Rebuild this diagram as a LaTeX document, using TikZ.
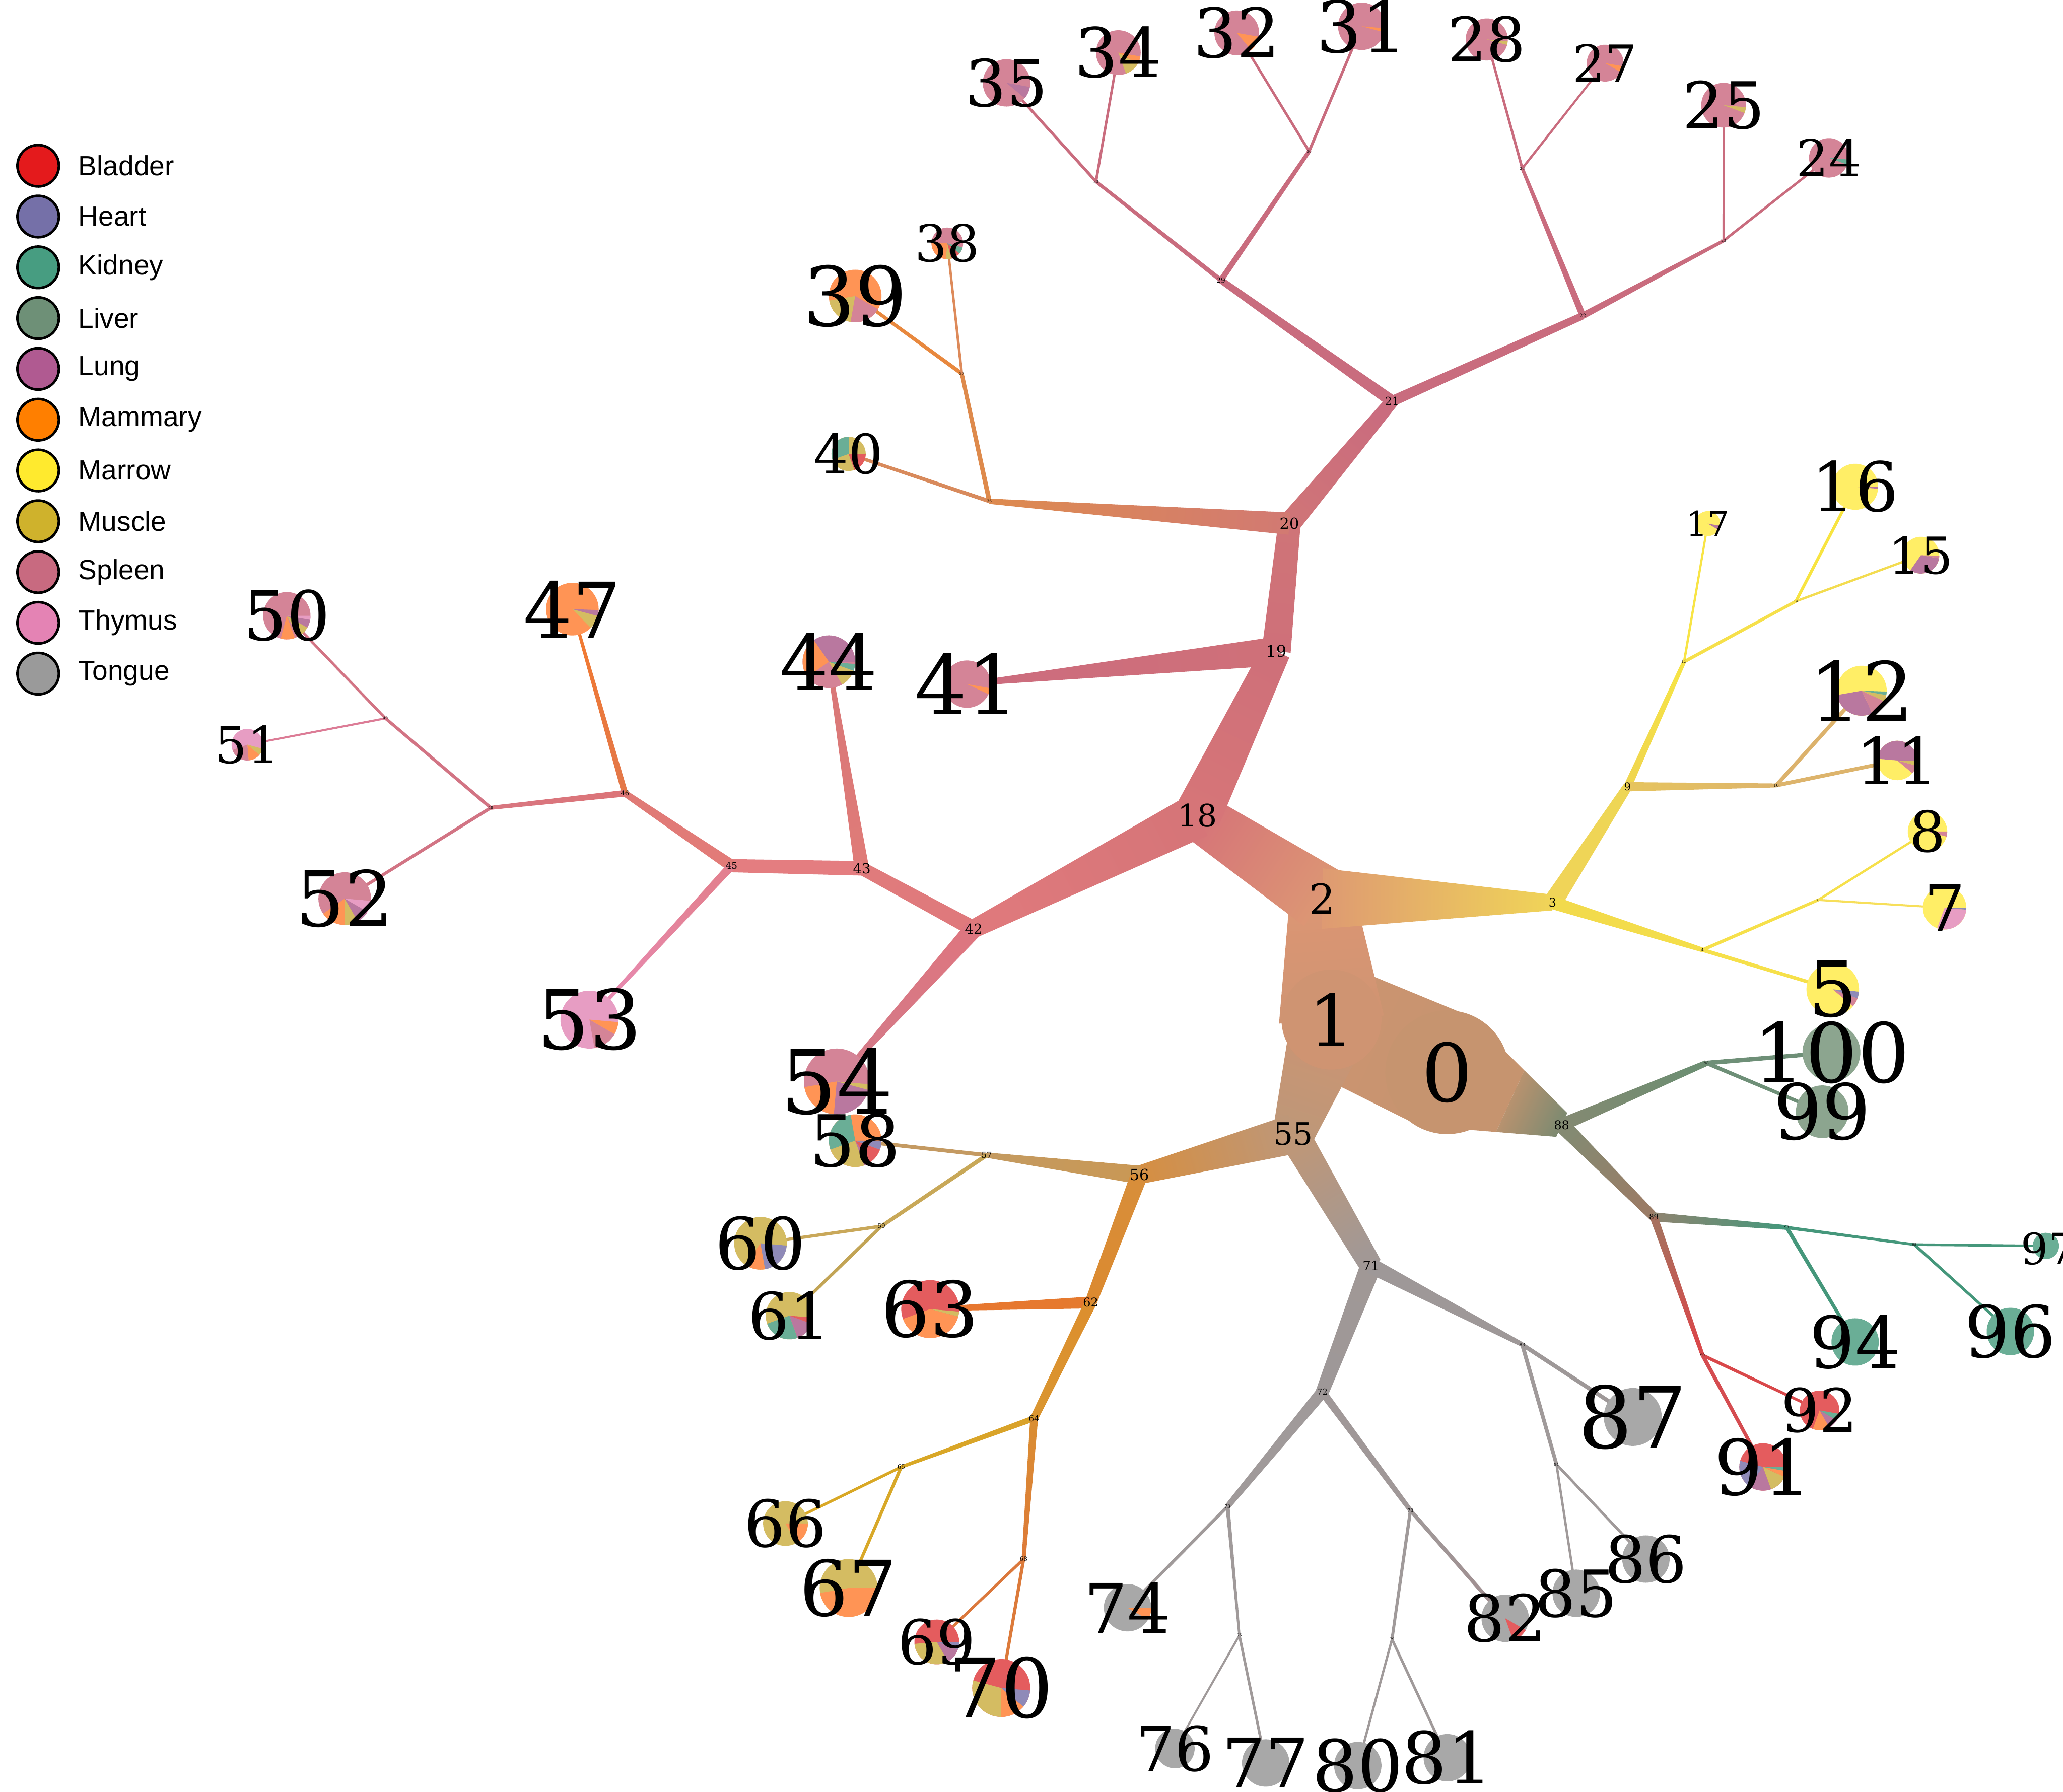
\documentclass[tikz,border=0pt]{standalone}
\usepackage{fontspec}
\setmainfont{DejaVu Serif}
\newfontfamily\legfont{Liberation Sans}
\usetikzlibrary{calc}
\definecolor{pSp}{HTML}{D48497}
\definecolor{pMa}{HTML}{FFEE66}
\definecolor{pLu}{HTML}{B9789F}
\definecolor{pMm}{HTML}{FF9455}
\definecolor{pMu}{HTML}{D4BC62}
\definecolor{pKi}{HTML}{6AAE96}
\definecolor{pLi}{HTML}{8CA58F}
\definecolor{pBl}{HTML}{E45C5E}
\definecolor{pHe}{HTML}{8F8AB8}
\definecolor{pTh}{HTML}{E79DC3}
\definecolor{pTo}{HTML}{A8A8A8}
\definecolor{lBl}{HTML}{E41A1C}
\definecolor{lHe}{HTML}{7570A8}
\definecolor{lKi}{HTML}{479D81}
\definecolor{lLi}{HTML}{6E9077}
\definecolor{lLu}{HTML}{B05A91}
\definecolor{lMm}{HTML}{FF7F00}
\definecolor{lMa}{HTML}{FFEA2E}
\definecolor{lMu}{HTML}{CFB22C}
\definecolor{lSp}{HTML}{C86A80}
\definecolor{lTh}{HTML}{E483B4}
\definecolor{lTo}{HTML}{9A9A9A}
\definecolor{cRt}{HTML}{C6946F}
\definecolor{cR1}{HTML}{CF9472}
% tapered branch: parent, child, width at parent, width at child, colour at parent, colour at child
\newcommand\brpath[4]{($(n#1)!#3*0.05mm!90:(n#2)$) -- ($(n#2)!#4*0.05mm!-90:(n#1)$) --
    ($(n#2)!#4*0.05mm!90:(n#1)$) -- ($(n#1)!#3*0.05mm!-90:(n#2)$) -- cycle}
\newcommand\brangle[2]{%
  \pgfmathanglebetweenpoints{\pgfpointanchor{n#1}{center}}{\pgfpointanchor{n#2}{center}}%
  \pgfmathsetmacro\brang{\pgfmathresult-90}}
\newcommand\br[6]{%
  \definecolor{brA}{HTML}{#5}\definecolor{brB}{HTML}{#6}\brangle{#1}{#2}%
  \path[top color=brB, bottom color=brA, shading angle=\brang] \brpath{#1}{#2}{#3}{#4};}
\newcommand\pie[3]{\fill[#3] (n#1) circle[radius=#2];}
\newcommand\pw[5]{\fill[#5] (n#1) -- ++(#3:#2) arc[start angle=#3, end angle=#4, radius=#2] -- cycle;}
\newcommand\lb[2]{\node[lbl, font={\fontsize{#2}{#2}\selectfont}] (t#1) at (n#1) {#1};}
\tikzset{
  lbl/.style={inner sep=0pt, text=black},
  legc/.style={circle, draw=black, line width=0.55pt, minimum size=3.15mm, inner sep=0pt},
  legt/.style={anchor=west, inner sep=0pt, font={\legfont\fontsize{6}{7}\selectfont}}
}
\begin{document}
\begin{tikzpicture}[x=0.1mm, y=0.1mm]
\fill[white] (0,0) rectangle (1568,-1362);
\useasboundingbox (0,0) rectangle (1568,-1362);
% ---------- coordinates ----------
\coordinate (n0) at (1100,-815);
\coordinate (n1) at (1012,-775);
\coordinate (n2) at (1005,-683);
\coordinate (n3) at (1180,-686);
\coordinate (n4) at (1294,-722);
\coordinate (n5) at (1393,-752);
\coordinate (n6) at (1382,-684);
\coordinate (n7) at (1478,-690);
\coordinate (n8) at (1465,-632);
\coordinate (n9) at (1237,-598);
\coordinate (n10) at (1350,-597);
\coordinate (n11) at (1442,-578);
\coordinate (n12) at (1415,-525);
\coordinate (n13) at (1280,-503);
\coordinate (n14) at (1365,-457);
\coordinate (n15) at (1460,-422);
\coordinate (n16) at (1410,-370);
\coordinate (n17) at (1298,-398);
\coordinate (n18) at (910,-620);
\coordinate (n19) at (970,-495);
\coordinate (n20) at (980,-398);
\coordinate (n21) at (1058,-305);
\coordinate (n22) at (1203,-240);
\coordinate (n23) at (1310,-183);
\coordinate (n24) at (1390,-120);
\coordinate (n25) at (1310,-80);
\coordinate (n26) at (1157,-128);
\coordinate (n27) at (1220,-48);
\coordinate (n28) at (1130,-30);
\coordinate (n29) at (928,-213);
\coordinate (n30) at (995,-115);
\coordinate (n31) at (1035,-20);
\coordinate (n32) at (940,-25);
\coordinate (n33) at (833,-138);
\coordinate (n34) at (850,-40);
\coordinate (n35) at (765,-63);
\coordinate (n36) at (752,-381);
\coordinate (n37) at (731,-284);
\coordinate (n38) at (720,-185);
\coordinate (n39) at (650,-225);
\coordinate (n40) at (645,-345);
\coordinate (n41) at (735,-520);
\coordinate (n42) at (740,-706);
\coordinate (n43) at (655,-660);
\coordinate (n44) at (630,-503);
\coordinate (n45) at (556,-658);
\coordinate (n46) at (475,-603);
\coordinate (n47) at (435,-463);
\coordinate (n48) at (373,-614);
\coordinate (n49) at (293,-546);
\coordinate (n50) at (218,-468);
\coordinate (n51) at (188,-566);
\coordinate (n52) at (262,-683);
\coordinate (n53) at (448,-775);
\coordinate (n54) at (636,-822);
\coordinate (n55) at (983,-862);
\coordinate (n56) at (866,-893);
\coordinate (n57) at (750,-878);
\coordinate (n58) at (650,-867);
\coordinate (n59) at (670,-932);
\coordinate (n60) at (578,-945);
\coordinate (n61) at (600,-1000);
\coordinate (n62) at (829,-990);
\coordinate (n63) at (707,-995);
\coordinate (n64) at (786,-1078);
\coordinate (n65) at (685,-1115);
\coordinate (n66) at (597,-1158);
\coordinate (n67) at (645,-1207);
\coordinate (n68) at (778,-1185);
\coordinate (n69) at (712,-1248);
\coordinate (n70) at (761,-1283);
\coordinate (n71) at (1042,-962);
\coordinate (n72) at (1005,-1058);
\coordinate (n73) at (933,-1145);
\coordinate (n74) at (857,-1222);
\coordinate (n75) at (942,-1243);
\coordinate (n76) at (893,-1329);
\coordinate (n77) at (962,-1340);
\coordinate (n78) at (1072,-1148);
\coordinate (n79) at (1058,-1246);
\coordinate (n80) at (1032,-1342);
\coordinate (n81) at (1100,-1336);
\coordinate (n82) at (1144,-1230);
\coordinate (n83) at (1157,-1022);
\coordinate (n84) at (1183,-1113);
\coordinate (n85) at (1198,-1211);
\coordinate (n86) at (1251,-1185);
\coordinate (n87) at (1241,-1077);
\coordinate (n88) at (1187,-855);
\coordinate (n89) at (1257,-925);
\coordinate (n90) at (1294,-1030);
\coordinate (n91) at (1340,-1115);
\coordinate (n92) at (1383,-1072);
\coordinate (n93) at (1358,-933);
\coordinate (n94) at (1410,-1020);
\coordinate (n95) at (1455,-946);
\coordinate (n96) at (1528,-1012);
\coordinate (n97) at (1555,-947);
\coordinate (n98) at (1297,-808);
\coordinate (n99) at (1385,-845);
\coordinate (n100) at (1392,-800);
\coordinate (n0b) at ($(n0)!0.55!(n88)$);
% ---------- branches ----------
\fill[cRt] \brpath{0}{0b}{90}{51.5};
\br{0b}{88}{51.5}{20}{C6946F}{7E8A70}
\br{0}{1}{92}{85}{C6946F}{CC9471}
\br{1}{2}{80}{50}{CF9472}{DC9674}
\br{1}{55}{62}{32}{CE9472}{BE9778}
\fill[cR1] (n1) circle[radius=38];
\fill[cRt] (n0) circle[radius=47];
\br{2}{18}{50}{36}{DC9674}{D67578}
\br{2}{3}{46}{12}{DE9A72}{F0D458}
\br{18}{19}{36}{22}{D67578}{CF7079}
\br{18}{42}{34}{14}{D67578}{DF797C}
\br{19}{20}{22}{17}{CF7079}{CF7478}
\br{19}{41}{22}{3}{CF7079}{CC6C7E}
\br{20}{21}{17}{10}{CF7478}{CA6C7E}
\br{20}{36}{17}{4}{D27A72}{DD8A50}
\br{21}{29}{9}{5}{C96C7E}{C96C7E}
\br{21}{22}{8}{5.5}{C96C7E}{C96C7E}
\br{29}{33}{3.5}{2.5}{C96C7E}{C96C7E}
\br{29}{30}{4.4}{3}{C96C7E}{C96C7E}
\br{33}{35}{2.2}{2}{C96C7E}{C96C7E}
\br{33}{34}{2}{1.8}{C96C7E}{C96C7E}
\br{30}{32}{2}{1.8}{C96C7E}{C96C7E}
\br{30}{31}{2.2}{2}{C96C7E}{C96C7E}
\br{22}{26}{5}{2.5}{C96C7E}{C96C7E}
\br{22}{23}{5}{2.5}{C96C7E}{C96C7E}
\br{26}{28}{2}{1.8}{C96C7E}{C96C7E}
\br{26}{27}{1.8}{1.5}{C96C7E}{C96C7E}
\br{23}{25}{1.6}{1.5}{C96C7E}{C96C7E}
\br{23}{24}{2}{1.8}{C96C7E}{C96C7E}
\br{36}{40}{3}{2.5}{D88A5C}{D88A5C}
\br{36}{37}{3.5}{3}{DE8A4C}{DE8A4C}
\br{37}{39}{3}{2.5}{E8883E}{E8883E}
\br{37}{38}{2}{1.8}{DD8A5A}{DD8A5A}
\br{42}{43}{12}{10}{DF797C}{E07B7C}
\br{42}{54}{14}{3}{DD7680}{D47A88}
\br{43}{44}{11}{2.7}{DF7B78}{D97878}
\br{43}{45}{11}{10}{E47D80}{E47D80}
\br{45}{46}{9}{5}{E27B78}{E07A76}
\br{45}{53}{6.4}{2.3}{E38090}{E78AB0}
\br{46}{47}{4.7}{2}{E47848}{F27A30}
\br{46}{48}{5}{3}{DC7478}{D87680}
\br{48}{49}{2.5}{2.3}{D27484}{D27484}
\br{48}{52}{2.5}{2.3}{D27484}{D27484}
\br{49}{50}{2}{2}{D27484}{D27484}
\br{49}{51}{1.6}{1.5}{DC7C96}{DC7C96}
\br{3}{9}{14.5}{7}{F0D458}{EED655}
\br{3}{4}{10}{3.5}{F2DA4C}{F4DE4A}
\br{9}{13}{6}{3}{F0D64E}{F6E345}
\br{9}{10}{7}{3}{E6C45E}{DDB46C}
\br{13}{17}{1.8}{1.6}{F8E445}{F8E445}
\br{13}{14}{2.5}{2.3}{F6E04A}{F6E04A}
\br{14}{16}{2.3}{2.2}{F8E440}{F8E440}
\br{14}{15}{1.8}{1.7}{F3DC50}{F3DC50}
\br{10}{12}{3}{2.8}{DCB26C}{DCB26C}
\br{10}{11}{3}{2.8}{DDB46C}{DDB46C}
\br{4}{5}{3}{2.5}{F6E04A}{F6E04A}
\br{4}{6}{2.5}{2.2}{F6E04A}{F6E04A}
\br{6}{8}{1.8}{1.7}{F6E04A}{F6E04A}
\br{6}{7}{1.6}{1.5}{F7DF5A}{F7DF5A}
\br{55}{56}{30}{14}{BE9778}{D48F45}
\br{55}{71}{24}{17}{BE9778}{A29895}
\br{56}{57}{14}{4}{C99855}{C49A60}
\br{56}{62}{13}{9}{D88E3A}{DB8A30}
\br{57}{58}{3}{2.8}{C49A62}{C49A62}
\br{57}{59}{3.2}{2.8}{C8A858}{C8A858}
\br{59}{60}{2.5}{2.4}{C9A85A}{C9A85A}
\br{59}{61}{2.5}{2.4}{C2A455}{C2A455}
\br{62}{63}{9}{3}{E57A2E}{E87630}
\br{62}{64}{9}{6}{DC8F2E}{DA9530}
\br{64}{65}{4.5}{2.5}{D9A22A}{D9A825}
\br{64}{68}{6}{3}{DA8E33}{DD7A38}
\br{65}{66}{2.2}{2}{D9A825}{D9A825}
\br{65}{67}{2.5}{2.3}{D8A828}{D8A828}
\br{68}{69}{2.2}{2}{DB783C}{DB783C}
\br{68}{70}{2.5}{2.3}{DC7A3A}{DC7A3A}
\br{71}{72}{16}{10}{A09896}{9E9898}
\br{71}{83}{12}{3.5}{9E9898}{9E9898}
\br{72}{73}{9}{4.4}{A09A9A}{A09A9A}
\br{72}{78}{6}{3.5}{A09898}{A09898}
\br{73}{74}{2.5}{2.2}{A09A9A}{A09A9A}
\br{73}{75}{3}{1.8}{A09A9A}{A09A9A}
\br{75}{76}{1.6}{1.5}{A09A9A}{A09A9A}
\br{75}{77}{2}{2}{A09A9A}{A09A9A}
\br{78}{79}{2.5}{2.2}{A09A9A}{A09A9A}
\br{78}{82}{3}{2.8}{A09898}{A08E90}
\br{79}{80}{1.8}{1.8}{A09A9A}{A09A9A}
\br{79}{81}{2}{2}{A09A9A}{A09A9A}
\br{83}{87}{3.2}{3}{9E9898}{9E9898}
\br{83}{84}{3}{2.8}{A09A9A}{A09A9A}
\br{84}{85}{1.8}{1.8}{A09A9A}{A09A9A}
\br{84}{86}{2}{2}{A09A9A}{A09A9A}
\br{88}{98}{10}{4.5}{828A72}{6D8E72}
\br{88}{89}{12}{7}{848A72}{9A7C66}
\br{98}{100}{3.5}{3}{6E8F77}{6E8F77}
\br{98}{99}{3}{2.5}{6E8F77}{6E8F77}
\br{89}{93}{7}{3.5}{8C8470}{45977B}
\br{89}{90}{6}{3}{A8705E}{D9484A}
\br{93}{94}{3}{2.5}{45977B}{45977B}
\br{93}{95}{2.5}{2}{45977B}{45977B}
\br{95}{97}{2}{1.8}{45977B}{45977B}
\br{95}{96}{2.2}{2}{45977B}{45977B}
\br{90}{92}{2.5}{2}{D9484A}{D9484A}
\br{90}{91}{3}{2.5}{D54C50}{D54C50}
% ---------- leaf pies ----------
\pie{5}{20}{pMa}\pw{5}{20}{320}{340}{pSp}\pw{5}{20}{340}{355}{pHe}
\pie{7}{16.5}{pMa}\pw{7}{16.5}{250}{355}{pTh}\pw{7}{16.5}{355}{360}{pHe}
\pie{8}{15}{pMa}\pw{8}{15}{345}{360}{pSp}
\pie{11}{15}{pMa}\pw{11}{15}{0}{175}{pLu}\pw{11}{15}{320}{345}{pSp}\pw{11}{15}{345}{358}{pMu}
\pie{12}{19}{pMa}\pw{12}{19}{190}{295}{pLu}\pw{12}{19}{295}{335}{pSp}\pw{12}{19}{335}{350}{pMu}\pw{12}{19}{350}{358}{pKi}
\pie{15}{14}{pMa}\pw{15}{14}{235}{350}{pLu}\pw{15}{14}{350}{358}{pSp}
\pie{16}{17.5}{pMa}\pw{16}{17.5}{355}{360}{pLu}
\pie{17}{9.5}{pMa}\pw{17}{9.5}{330}{350}{pLu}
\pie{24}{15}{pSp}\pw{24}{15}{340}{355}{pKi}
\pie{25}{17}{pSp}\pw{25}{17}{340}{355}{pMu}
\pie{27}{14}{pSp}\pw{27}{14}{330}{350}{pMm}
\pie{28}{16}{pSp}\pw{28}{16}{345}{355}{pMu}
\pie{31}{18}{pSp}\pw{31}{18}{345}{355}{pMm}
\pie{32}{17}{pSp}\pw{32}{17}{310}{350}{pMm}
\pie{34}{17}{pSp}\pw{34}{17}{290}{330}{pMu}\pw{34}{17}{330}{350}{pMm}
\pie{35}{18}{pSp}\pw{35}{18}{320}{350}{pLu}
\pie{38}{12}{pSp}\pw{38}{12}{180}{265}{pMm}\pw{38}{12}{265}{285}{pMu}\pw{38}{12}{285}{320}{pBl}\pw{38}{12}{320}{345}{pKi}
\pie{39}{20}{pMm}\pw{39}{20}{190}{260}{pMu}\pw{39}{20}{260}{330}{pSp}
\pie{40}{13}{pMu}\pw{40}{13}{90}{200}{pKi}\pw{40}{13}{290}{360}{pBl}
\pie{41}{18}{pSp}\pw{41}{18}{335}{350}{pMm}
\pie{44}{20}{pSp}\pw{44}{20}{0}{125}{pLu}\pw{44}{20}{125}{215}{pMm}\pw{44}{20}{300}{340}{pMu}\pw{44}{20}{340}{355}{pKi}
\pie{47}{20}{pMm}\pw{47}{20}{315}{345}{pMu}\pw{47}{20}{345}{358}{pLu}
\pie{50}{18}{pSp}\pw{50}{18}{255}{290}{pMm}\pw{50}{18}{300}{330}{pMu}\pw{50}{18}{330}{350}{pLu}\pw{50}{18}{350}{360}{pTh}
\pie{51}{12}{pTh}\pw{51}{12}{200}{275}{pSp}\pw{51}{12}{275}{320}{pMm}\pw{51}{12}{320}{345}{pMu}
\pie{52}{20}{pSp}\pw{52}{20}{215}{270}{pMm}\pw{52}{20}{270}{300}{pMu}\pw{52}{20}{300}{330}{pLu}\pw{52}{20}{330}{355}{pTh}
\pie{53}{22}{pTh}\pw{53}{22}{280}{330}{pSp}\pw{53}{22}{330}{355}{pMm}
\pie{54}{25}{pSp}\pw{54}{25}{190}{265}{pMm}\pw{54}{25}{265}{345}{pLu}\pw{54}{25}{345}{355}{pMu}
\pie{58}{20}{pMm}\pw{58}{20}{100}{200}{pKi}\pw{58}{20}{200}{290}{pMu}\pw{58}{20}{290}{305}{pLu}\pw{58}{20}{305}{340}{pBl}\pw{58}{20}{340}{360}{pHe}
\pie{60}{20}{pMu}\pw{60}{20}{235}{280}{pMm}\pw{60}{20}{280}{355}{pHe}
\pie{61}{18}{pMu}\pw{61}{18}{200}{290}{pKi}\pw{61}{18}{290}{340}{pLu}\pw{61}{18}{340}{355}{pBl}
\pie{63}{22}{pBl}\pw{63}{22}{200}{345}{pMm}\pw{63}{22}{345}{355}{pMu}
\pie{66}{17}{pMu}\pw{66}{17}{300}{360}{pMm}
\pie{67}{22}{pMu}\pw{67}{22}{190}{360}{pMm}
\pie{69}{17}{pBl}\pw{69}{17}{185}{300}{pMu}\pw{69}{17}{300}{340}{pLu}\pw{69}{17}{340}{360}{pHe}
\pie{70}{22}{pBl}\pw{70}{22}{165}{270}{pMu}\pw{70}{22}{270}{320}{pMm}\pw{70}{22}{320}{355}{pHe}
\pie{74}{18}{pTo}\pw{74}{18}{330}{360}{pMm}
\pie{76}{15}{pTo}
\pie{77}{18}{pTo}
\pie{80}{18}{pTo}
\pie{81}{18}{pTo}
\pie{82}{18}{pTo}\pw{82}{18}{290}{330}{pBl}
\pie{85}{18}{pTo}
\pie{86}{18}{pTo}
\pie{87}{22}{pTo}
\pie{91}{18}{pBl}\pw{91}{18}{165}{235}{pHe}\pw{91}{18}{235}{290}{pLu}\pw{91}{18}{290}{335}{pMu}\pw{91}{18}{335}{350}{pMm}\pw{91}{18}{350}{360}{pKi}
\pie{92}{15}{pBl}\pw{92}{15}{250}{300}{pMm}\pw{92}{15}{300}{330}{pLu}\pw{92}{15}{330}{350}{pKi}
\pie{94}{18}{pKi}
\pie{96}{18}{pKi}
\pie{97}{10}{pKi}
\pie{99}{20}{pLi}
\pie{100}{22}{pLi}
% ---------- internal labels ----------
\lb{0}{17.4}\lb{1}{15.5}\lb{2}{8.9}\lb{18}{6.7}\lb{55}{6.7}
\lb{20}{3.3}\lb{19}{3.5}\lb{21}{2.4}\lb{42}{3}\lb{43}{3}\lb{56}{3.3}
\lb{62}{2.6}\lb{3}{2.6}\lb{9}{2.3}\lb{88}{2.6}\lb{71}{2.8}
\lb{57}{1.8}\lb{64}{1.8}\lb{72}{1.8}\lb{89}{1.6}\lb{45}{2}\lb{46}{1.4}
\lb{59}{1.3}\lb{65}{1.3}\lb{68}{1.3}\lb{29}{1.5}
\lb{4}{0.9}\lb{6}{0.7}\lb{10}{0.9}\lb{13}{0.9}\lb{14}{0.7}
\lb{22}{1.1}\lb{23}{0.8}\lb{26}{0.8}\lb{30}{0.8}\lb{33}{0.8}\lb{36}{0.8}\lb{37}{0.8}
\lb{48}{0.8}\lb{49}{0.8}\lb{73}{1}\lb{75}{0.8}\lb{78}{1}\lb{79}{0.8}
\lb{83}{1}\lb{84}{0.8}\lb{90}{0.8}\lb{93}{0.8}\lb{95}{0.7}\lb{98}{0.8}
% ---------- leaf labels ----------
\lb{100}{17.8}\lb{99}{16.6}\lb{5}{16.6}\lb{7}{14}\lb{8}{12.2}\lb{11}{14}
\lb{12}{17.8}\lb{15}{11}\lb{16}{14.8}\lb{17}{7.4}
\lb{24}{11}\lb{25}{14}\lb{27}{11}\lb{28}{13.3}\lb{31}{15.5}\lb{32}{14.8}
\lb{34}{14.8}\lb{35}{14}\lb{38}{11}\lb{39}{17.8}\lb{40}{11.8}\lb{41}{17.8}
\lb{44}{16.6}\lb{47}{16.6}\lb{50}{14.8}\lb{51}{11}\lb{52}{16.6}\lb{53}{17.8}
\lb{54}{19.2}\lb{58}{15.5}\lb{60}{15.5}\lb{61}{14}\lb{63}{16.6}\lb{66}{14}
\lb{67}{16.6}\lb{69}{13.3}\lb{70}{17.8}\lb{74}{14.8}\lb{76}{13.3}\lb{77}{14.8}
\lb{80}{15.5}\lb{81}{15.5}\lb{82}{14}\lb{85}{14}\lb{86}{14}\lb{87}{18.5}
\lb{91}{16.6}\lb{92}{13}\lb{94}{15.5}\lb{96}{15.5}
\node[lbl, font={\fontsize{9.3}{9.3}\selectfont}] (t97) at (1557,-949) {97};
% ---------- legend ----------
\node[legc, fill=lBl] (g1) at (29,-126) {};
\node[legc, fill=lHe] (g2) at (29,-164.6) {};
\node[legc, fill=lKi] (g3) at (29,-203.2) {};
\node[legc, fill=lLi] (g4) at (29,-241.8) {};
\node[legc, fill=lLu] (g5) at (29,-280.4) {};
\node[legc, fill=lMm] (g6) at (29,-319) {};
\node[legc, fill=lMa] (g7) at (29,-357.6) {};
\node[legc, fill=lMu] (g8) at (29,-396.2) {};
\node[legc, fill=lSp] (g9) at (29,-434.8) {};
\node[legc, fill=lTh] (g10) at (29,-473.4) {};
\node[legc, fill=lTo] (g11) at (29,-512) {};
\node[legt] (h1) at (59,-126) {Bladder};
\node[legt] (h2) at (59,-164.6) {Heart};
\node[legt] (h3) at (59,-203.2) {Kidney};
\node[legt] (h4) at (59,-241.8) {Liver};
\node[legt] (h5) at (59,-280.4) {Lung};
\node[legt] (h6) at (59,-319) {Mammary};
\node[legt] (h7) at (59,-357.6) {Marrow};
\node[legt] (h8) at (59,-396.2) {Muscle};
\node[legt] (h9) at (59,-434.8) {Spleen};
\node[legt] (h10) at (59,-473.4) {Thymus};
\node[legt] (h11) at (59,-512) {Tongue};
\end{tikzpicture}
\end{document}
